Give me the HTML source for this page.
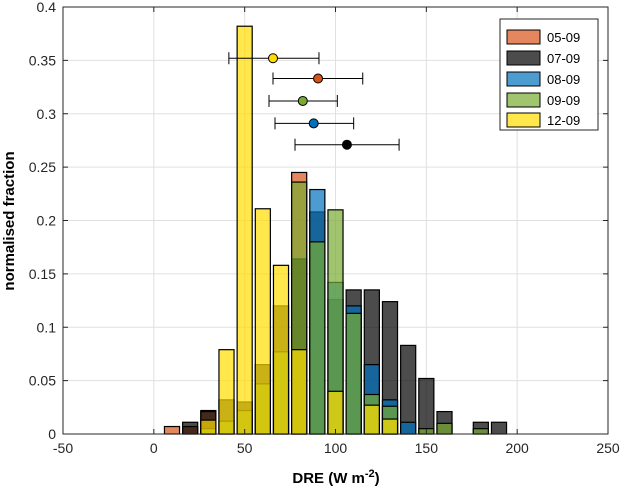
<!DOCTYPE html>
<html><head><meta charset="utf-8"><style>
body{margin:0;background:#fff;font-family:"Liberation Sans",Arial,sans-serif;}
svg text{font-family:"Liberation Sans",Arial,sans-serif;}
</style></head><body>
<svg id="chart" width="620" height="491" viewBox="0 0 620 491" xmlns="http://www.w3.org/2000/svg"></svg>
<script>
const bins = [10,20,30,40,50,60,70,80,90,100,110,120,130,140,150,160,170,180,190];
const s0509 = [0.007,0.007,0.021,0,0,0,0,0.245,0,0,0,0,0,0,0,0,0,0,0];
const s0709 = [0,0.011,0.022,0.032,0.030,0.065,0.120,0.164,0.208,0.126,0.135,0.135,0.124,0.083,0.052,0.021,0,0.011,0.011];
const s0809 = [0,0,0,0,0,0,0,0,0.229,0.142,0.120,0.065,0.032,0.011,0,0,0,0,0];
const s0909 = [0,0,0.005,0.012,0.022,0.047,0.077,0.236,0.180,0.210,0.113,0.037,0.026,0,0.005,0.010,0,0.005,0];
const s1209 = [0,0,0.013,0.079,0.382,0.211,0.158,0.079,0,0.040,0,0.027,0.014,0,0,0,0,0,0];
const seriesNames = ['05-09','07-09','08-09','09-09','12-09'];
const seriesColors = ['#D95319','#000000','#0072BD','#77AC30','#FFDD00'];
const meanX = [90.4,106.3,88,82,65.6];
const meanY = [0.333,0.271,0.291,0.312,0.352];
const errLo = [65.6,77.7,66.7,63.4,41.3];
const errHi = [115,135,110,101,90.9];
const markerColors = ['#D95319','#000000','#0072BD','#77AC30','#FFDD00'];
const xTicks = [-50,0,50,100,150,200,250];
const yTicks = [0,0.05,0.1,0.15,0.2,0.25,0.3,0.35,0.4];

const L=63,R=608,T=7,B=434;
const xs = v => L + (v+50)/300*(R-L);
const ys = v => B - v/0.4*(B-T);
const svg = document.getElementById('chart');
const NS='http://www.w3.org/2000/svg';
function mk(tag, attrs, parent){const e=document.createElementNS(NS,tag);for(const k in attrs)e.setAttribute(k,attrs[k]);(parent||svg).appendChild(e);return e;}

// grid
xTicks.forEach(t=>{const l=mk('line',{x1:xs(t),x2:xs(t),y1:T,y2:B,stroke:'#e0e0e0','stroke-width':1});

});
yTicks.forEach(t=>{const l=mk('line',{x1:L,x2:R,y1:ys(t),y2:ys(t),stroke:'#e0e0e0','stroke-width':1});

});

// bars
const all=[s0509,s0709,s0809,s0909,s1209];
const bw=8.3;
all.forEach((s,si)=>{
  const g=mk('g',{});
  
  
  s.forEach((v,i)=>{
    if(v<=0)return;
    const x0=xs(bins[i]-bw/2),x1=xs(bins[i]+bw/2);
    const r=mk('rect',{x:x0,y:ys(v),width:x1-x0,height:ys(0)-ys(v),fill:seriesColors[si],'fill-opacity':0.7,stroke:'#000','stroke-width':1.2},g);
    
    
  });
});

// error bars
meanX.forEach((m,i)=>{
  const g=mk('g',{});
  
  
  const y=ys(meanY[i]);
  mk('line',{x1:xs(errLo[i]),x2:xs(errHi[i]),y1:y,y2:y,stroke:'#000','stroke-width':1},g);
  mk('line',{x1:xs(errLo[i]),x2:xs(errLo[i]),y1:y-6,y2:y+6,stroke:'#000','stroke-width':1},g);
  mk('line',{x1:xs(errHi[i]),x2:xs(errHi[i]),y1:y-6,y2:y+6,stroke:'#000','stroke-width':1},g);
  mk('circle',{cx:xs(m),cy:y,r:4.5,fill:markerColors[i],stroke:'#000','stroke-width':1},g);
});

// axes box
const ax=mk('rect',{x:L,y:T,width:R-L,height:B-T,fill:'none',stroke:'#262626','stroke-width':1});



xTicks.forEach(t=>{
  mk('line',{x1:xs(t),x2:xs(t),y1:B,y2:B-5,stroke:'#262626'});
  mk('line',{x1:xs(t),x2:xs(t),y1:T,y2:T+5,stroke:'#262626'});
  const tx=mk('text',{x:xs(t),y:B+19,'text-anchor':'middle','font-size':14,fill:'#262626'});tx.textContent=t;
  
  
});
yTicks.forEach(t=>{
  mk('line',{x1:L,x2:L+5,y1:ys(t),y2:ys(t),stroke:'#262626'});
  mk('line',{x1:R,x2:R-5,y1:ys(t),y2:ys(t),stroke:'#262626'});
  const tx=mk('text',{x:L-7,y:ys(t)+5,'text-anchor':'end','font-size':14,fill:'#262626'});tx.textContent=String(t);
  
  
});
</script>
<svg style="position:absolute;left:0;top:0" width="620" height="491">
<text x="336" y="483" text-anchor="middle" font-size="15" font-weight="bold" fill="#000">DRE (W m<tspan dy="-6" font-size="11">-2</tspan><tspan dy="6">)</tspan></text>
<text transform="translate(14,221) rotate(-90)" text-anchor="middle" font-size="15" font-weight="bold" fill="#000">normalised fraction</text>
<g>
<rect x="500" y="19" width="98" height="111" fill="#fff" stroke="#262626" stroke-width="1"/>
<g><rect x="507" y="30" width="33" height="14" fill="#D95319" fill-opacity="0.7" stroke="#000"/><text x="547" y="42" font-size="13">05-09</text></g>
<g><rect x="507" y="51" width="33" height="14" fill="#000" fill-opacity="0.7" stroke="#000"/><text x="547" y="63" font-size="13">07-09</text></g>
<g><rect x="507" y="72" width="33" height="14" fill="#0072BD" fill-opacity="0.7" stroke="#000"/><text x="547" y="84" font-size="13">08-09</text></g>
<g><rect x="507" y="93" width="33" height="14" fill="#77AC30" fill-opacity="0.7" stroke="#000"/><text x="547" y="105" font-size="13">09-09</text></g>
<g><rect x="507" y="113" width="33" height="14" fill="#FFDD00" fill-opacity="0.7" stroke="#000"/><text x="547" y="125" font-size="13">12-09</text></g>
</g>
</svg>
</body></html>
